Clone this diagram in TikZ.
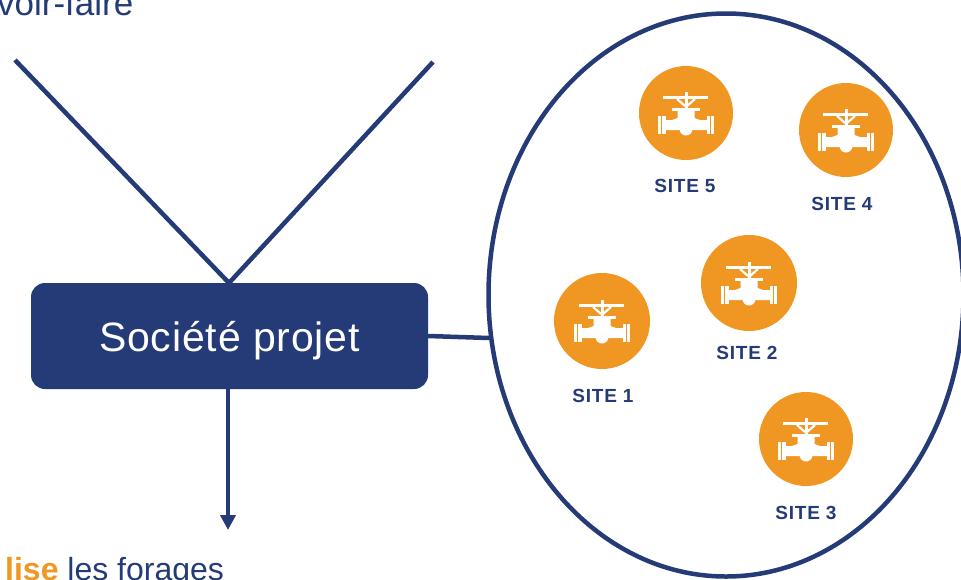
\documentclass[tikz,border=0pt]{standalone}
\usepackage{fontspec}
\setmainfont{Liberation Sans}
\usetikzlibrary{arrows.meta,shapes.geometric}
\definecolor{navy}{HTML}{243B77}
\definecolor{amber}{HTML}{F09622}
\tikzset{
  x=1pt,y=-1pt,
  conn/.style={draw=navy,line width=4.5pt},
  sitedisc/.style={circle,fill=amber,inner sep=0pt},
  sitelabel/.style={text=navy,font=\fontsize{19}{22}\selectfont\addfontfeatures{LetterSpace=4}\bfseries,inner sep=0pt},
  prose/.style={text=navy,font=\fontsize{32}{36}\selectfont,inner sep=0pt,anchor=base west},
  projbox/.style={fill=navy,rounded corners=14pt,minimum width=397pt,minimum height=106pt,inner sep=0pt,outer sep=0pt,text=white,text height=36pt,text depth=5pt,font=\fontsize{41}{46}\selectfont\addfontfeatures{LetterSpace=2}},
  enclosure/.style={ellipse,draw=navy,line width=4.5pt,minimum width=475pt,minimum height=563pt,inner sep=0pt,outer sep=0pt},
  valve/.pic={
    \fill[white] (-22.7,-17.5) rectangle (22.3,-14.5);
    \fill[white] (-1.5,-21) rectangle (1.5,-3);
    \draw[white,line width=2.2pt] (-9,-14) -- (-1,-7) (9,-14) -- (1,-7);
    \fill[white] (-14,-5.5) rectangle (14,-2);
    \fill[white] (-8.5,-2) -- (8.5,-2) -- (8.5,5) -- (14,7) -- (21,7) -- (21,17) -- (-21,17) -- (-21,7) -- (-14,7) -- (-8.5,5) -- cycle;
    \fill[white] (0,16) circle[radius=6.5];
    \fill[white] (-28,2.7) rectangle (-25.2,20.5);
    \fill[white] (-24,2.7) rectangle (-20.5,20.5);
    \fill[white] (20.5,2.7) rectangle (24,20.5);
    \fill[white] (25.2,2.7) rectangle (28,20.5);
  }
}
\begin{document}
\begin{tikzpicture}
\useasboundingbox (0,0) rectangle (961,579);
\clip (0,0) rectangle (961,579);
\node[projbox] (proj) at (229.5,336) {Société projet};
\node[enclosure] (encl) at (726,295) {};
\coordinate (vl) at (15,60);
\coordinate (vr) at (433,62);
\coordinate (apex) at (229,283);
\coordinate (out) at (228,530);
\coordinate (join) at (489,338);
\draw[conn] (vl) -- (apex) -- (vr);
\draw[conn] (proj.east) -- (join);
\draw[conn,-{Triangle[length=15pt,width=15pt]}] (proj.south -| out) -- (out);
\node[prose,font=\fontsize{35}{38}\selectfont] (top) at (-3,15) {voir-faire};
\node[prose] (bottom) at (5,580) {{\color{amber}\bfseries lise} les forages};
\foreach \n/\cx/\cy/\d/\lx/\ly in {1/602/321/96/603/396, 2/749/283/96/747/353, 3/806/439/94/806/513, 4/846/130/94/842/204, 5/686/113/94/685/186}{
  \node[sitedisc,minimum size=\d pt] (s\n) at (\cx,\cy) {};
  \pic at (s\n) {valve};
  \node[sitelabel] (l\n) at (\lx,\ly) {SITE \n};
}
\end{tikzpicture}
\end{document}
